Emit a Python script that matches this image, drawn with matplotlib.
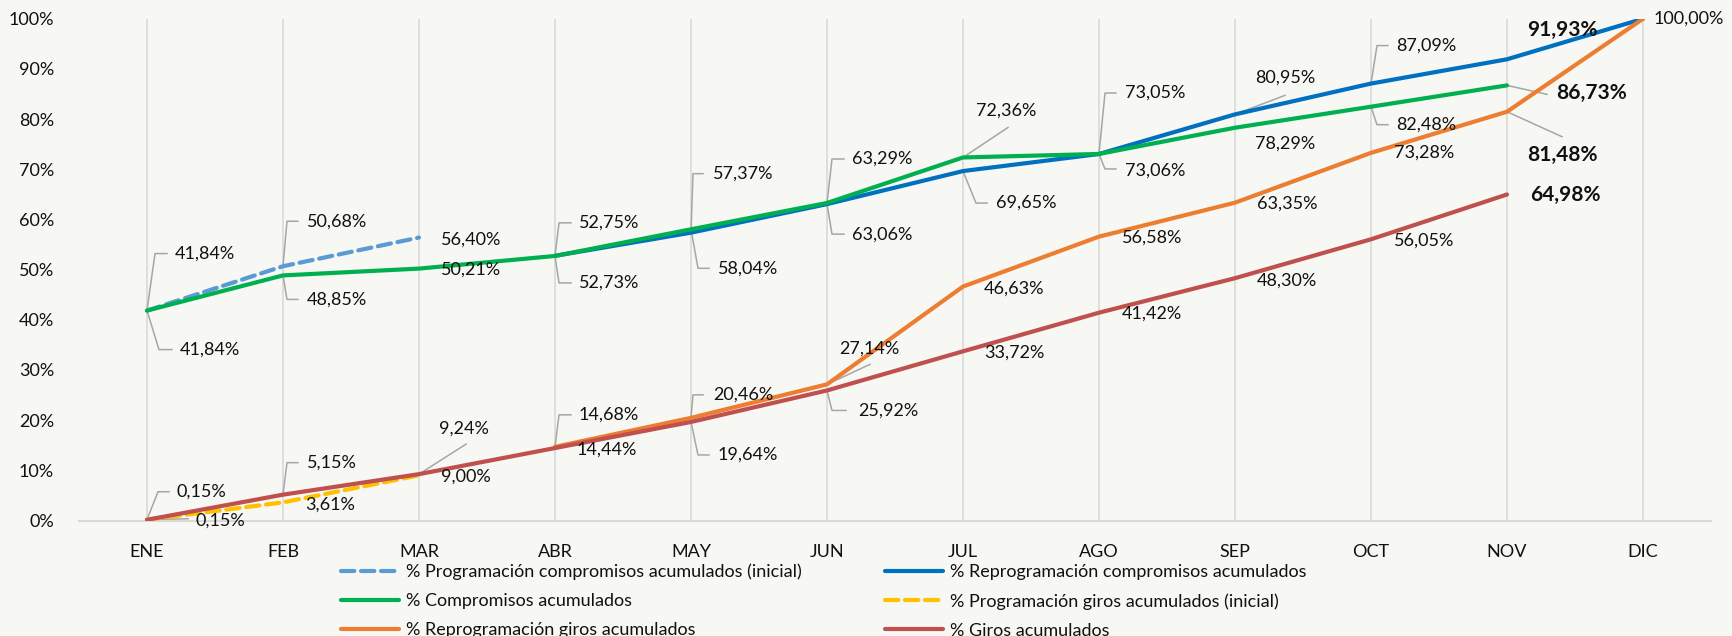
import numpy as np
import matplotlib
matplotlib.use("Agg")
import matplotlib.pyplot as plt
from matplotlib.lines import Line2D
from matplotlib.transforms import IdentityTransform

plt.rcParams['font.family'] = ['Lato', 'DejaVu Sans']

nan = np.nan
months = ['ENE', 'FEB', 'MAR', 'ABR', 'MAY', 'JUN', 'JUL', 'AGO', 'SEP', 'OCT', 'NOV', 'DIC']
prog_comp_ini = [41.84, 50.68, 56.40, nan, nan, nan, nan, nan, nan, nan, nan, nan]
reprog_comp = [nan, nan, nan, 52.75, 57.37, 63.06, 69.65, 73.05, 80.95, 87.09, 91.93, 100.00]
compromisos = [41.84, 48.85, 50.21, 52.73, 58.04, 63.29, 72.36, 73.06, 78.29, 82.48, 86.73, nan]
prog_giros_ini = [0.15, 3.61, 9.00, nan, nan, nan, nan, nan, nan, nan, nan, nan]
reprog_giros = [nan, nan, nan, 14.68, 20.46, 27.14, 46.63, 56.58, 63.35, 73.28, 81.48, 100.00]
giros = [0.15, 5.15, 9.24, 14.44, 19.64, 25.92, 33.72, 41.42, 48.30, 56.05, 64.98, nan]

series_names = {
    'pci': '% Programación compromisos acumulados (inicial)',
    'rc': '% Reprogramación compromisos acumulados',
    'c': '% Compromisos acumulados',
    'pgi': '% Programación giros acumulados (inicial)',
    'rg': '% Reprogramación giros acumulados',
    'g': '% Giros acumulados',
}
series_vals = {'pci': prog_comp_ini, 'rc': reprog_comp, 'c': compromisos,
               'pgi': prog_giros_ini, 'rg': reprog_giros, 'g': giros}
styles = {
    'pci': dict(color='#5B9BD5', ls=(0, (3.2, 1.6)), dash_capstyle='round'),
    'rc': dict(color='#0070C0', ls='-'),
    'c': dict(color='#00B050', ls='-'),
    'pgi': dict(color='#FFC000', ls=(0, (3.2, 1.6)), dash_capstyle='round'),
    'rg': dict(color='#ED7D31', ls='-'),
    'g': dict(color='#C0504D', ls='-'),
}

# label placement (pixel offsets from the point, y downwards), leader polylines
labels = [
    ('pci', 0, (28, -57), [(8, -57), (20, -57)], False),
    ('c', 0, (33, 39), [(12, 39), (25, 39)], False),
    ('g', 0, (30, -28), [(11, -28), (22, -28)], False),
    ('pgi', 0, (49, 1), [(41, -1)], False),
    ('pci', 1, (24, -45), [(4, -45), (15, -45)], False),
    ('c', 1, (24, 24), [(4, 24), (15, 24)], False),
    ('g', 1, (24, -32), [(4, -32), (15, -32)], False),
    ('pgi', 1, (22, 2), None, False),
    ('pci', 2, (22, 2), None, False),
    ('c', 2, (22, 1), None, False),
    ('g', 2, (20, -46), [(47, -30)], False),
    ('pgi', 2, (22, 1), None, False),
    ('rc', 3, (24, -33), [(4, -33), (16, -33)], False),
    ('c', 3, (24, 27), [(4, 27), (16, 27)], False),
    ('rg', 3, (24, -32), [(4, -32), (16, -32)], False),
    ('g', 3, (22, 2), None, False),
    ('rc', 4, (22, -59), [(2, -59), (12, -59)], False),
    ('c', 4, (27, 39), [(7, 39), (18, 39)], False),
    ('rg', 4, (22, -23), [(2, -23), (12, -23)], False),
    ('g', 4, (27, 33), [(7, 33), (18, 33)], False),
    ('c', 5, (25, -44), [(5, -44), (17, -44)], False),
    ('rc', 5, (25, 30), [(5, 30), (17, 30)], False),
    ('rg', 5, (12, -36), [(43, -20)], False),
    ('g', 5, (31, 20), [(5, 20), (19, 20)], False),
    ('c', 6, (13, -47), [(45, -30)], False),
    ('rc', 6, (33, 32), [(13, 32), (24, 32)], False),
    ('rg', 6, (21, 2), None, False),
    ('g', 6, (21, 1), None, False),
    ('rc', 7, (26, -61), [(6, -61), (17, -61)], False),
    ('c', 7, (26, 17), [(6, 15), (17, 15)], False),
    ('rg', 7, (23, 1), None, False),
    ('g', 7, (23, 1), None, False),
    ('rc', 8, (20, -37), [(50, -19)], False),
    ('c', 8, (20, 16), None, False),
    ('rg', 8, (22, 1), None, False),
    ('g', 8, (22, 2), None, False),
    ('rc', 9, (25, -38), [(6, -38), (17, -38)], False),
    ('c', 9, (25, 18), [(6, 18), (17, 18)], False),
    ('rg', 9, (23, 0), None, False),
    ('g', 9, (23, 1), None, False),
    ('rc', 10, (20, -29), None, True),
    ('c', 10, (49, 8), [(40, 9)], True),
    ('rg', 10, (20, 43), [(55, 25)], True),
    ('g', 10, (23, 0), None, True),
    ('rc', 11, (11, 0), None, False),
]

W, H = 1733, 636
fig = plt.figure(figsize=(W / 100, H / 100), dpi=100)
bg = '#F7F7F3'
fig.patch.set_facecolor(bg)
ax = fig.add_axes([79 / W, 115.5 / H, (1711 - 79) / W, (617.2 - 115.5) / H])
ax.set_facecolor(bg)

x = np.arange(len(months))
handles = {}
for key in ['pci', 'rc', 'c', 'pgi', 'rg', 'g']:
    st = styles[key]
    ln, = ax.plot(x, series_vals[key], lw=3.0, label=series_names[key],
                  solid_capstyle='round', zorder=3, **st)
    handles[key] = ln

ax.set_xlim(-0.5, len(months) - 0.5)
ax.set_ylim(0, 100)
ax.set_yticks(np.arange(0, 101, 10))
ax.set_yticklabels([f'{v}%' for v in range(0, 101, 10)])
ax.set_xticks(x)
ax.set_xticklabels(months)
ax.tick_params(axis='both', length=0, labelsize=13, labelcolor='#111111')
ax.tick_params(axis='y', pad=18)
ax.tick_params(axis='x', pad=17)
ax.grid(axis='x', color='#D9D9D9', lw=1.2, zorder=0)
ax.grid(axis='y', visible=False)
for s in ['top', 'right', 'left']:
    ax.spines[s].set_visible(False)
ax.spines['bottom'].set_color('#D9D9D9')
ax.spines['bottom'].set_linewidth(1.5)

fig.canvas.draw()
for key, i, toff, leader, bold in labels:
    v = series_vals[key][i]
    txt = f'{v:.2f}'.replace('.', ',') + '%'
    base = ax.transData.transform((i, v))
    if leader:
        pts = [(0, 0)] + leader
        xs = [base[0] + p[0] for p in pts]
        ys = [base[1] - p[1] for p in pts]
        ln = Line2D(xs, ys, transform=IdentityTransform(), color='#A6A6A6', lw=1.1, zorder=2)
        ln.set_clip_on(False)
        ax.add_artist(ln)
    ax.annotate(txt, xy=(i, v), xytext=(toff[0], -toff[1]), textcoords='offset pixels',
                ha='left', va='center', fontsize=15 if bold else 13,
                fontweight='bold' if bold else 'normal', color='#111111', zorder=4,
                annotation_clip=False)

order = ['pci', 'c', 'rg', 'rc', 'pgi', 'g']
leg = fig.legend([handles[k] for k in order], [series_names[k] for k in order],
                 loc='center', bbox_to_anchor=(824 / W, (H - 601) / H), ncol=2,
                 frameon=False, fontsize=13, handlelength=3.2, handletextpad=0.4,
                 columnspacing=4.6, labelspacing=0.72, borderpad=0)
for t in leg.get_texts():
    t.set_color('#111111')

fig.savefig('out.png', dpi=100, facecolor=bg)
